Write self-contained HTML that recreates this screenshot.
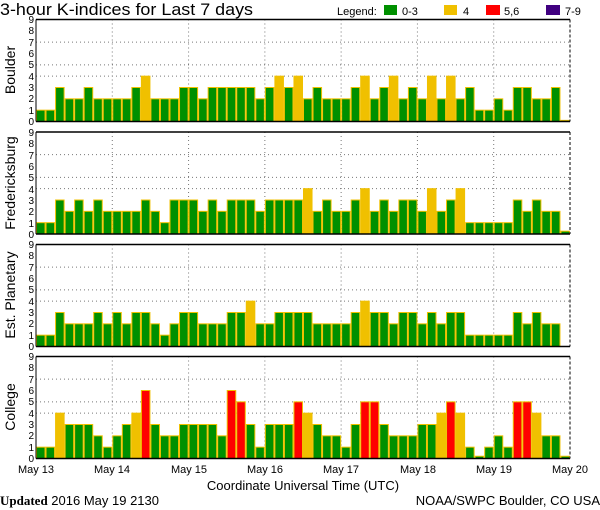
<!DOCTYPE html>
<html><head><meta charset="utf-8"><style>
body{margin:0;background:#fff;width:600px;height:510px;overflow:hidden}
svg{display:block}
text{font-family:"Liberation Sans",sans-serif;fill:#000}
.t{font-size:10px}
</style></head><body>
<svg id="s" width="600" height="510" xmlns="http://www.w3.org/2000/svg">
<text x="0" y="15" font-size="17" textLength="253" lengthAdjust="spacingAndGlyphs">3-hour K-indices for Last 7 days</text>
<text x="337" y="15" font-size="11">Legend:</text>
<rect x="384" y="5" width="13" height="10" fill="#009000"/>
<text x="402" y="15" font-size="11">0-3</text>
<rect x="444" y="5" width="13" height="10" fill="#f0c000"/>
<text x="463" y="15" font-size="11">4</text>
<rect x="486" y="5" width="14" height="10" fill="#ff0000"/>
<text x="504" y="15" font-size="11">5,6</text>
<rect x="546" y="5" width="14" height="10" fill="#400080"/>
<text x="565" y="15" font-size="11">7-9</text>
<g id="g"></g>
<text transform="translate(15,70) rotate(-90)" text-anchor="middle" font-size="14">Boulder</text>
<text transform="translate(15,183) rotate(-90)" text-anchor="middle" font-size="14">Fredericksburg</text>
<text transform="translate(15,295) rotate(-90)" text-anchor="middle" font-size="14">Est. Planetary</text>
<text transform="translate(15,407) rotate(-90)" text-anchor="middle" font-size="14">College</text>
<g class="t" text-anchor="end">
<text x="34" y="125">0</text><text x="34" y="114">1</text><text x="34" y="102">2</text><text x="34" y="91">3</text><text x="34" y="80">4</text><text x="34" y="68">5</text><text x="34" y="57">6</text><text x="34" y="46">7</text><text x="34" y="34">8</text><text x="34" y="23">9</text>
<text x="34" y="238">0</text><text x="34" y="227">1</text><text x="34" y="215">2</text><text x="34" y="204">3</text><text x="34" y="193">4</text><text x="34" y="181">5</text><text x="34" y="170">6</text><text x="34" y="159">7</text><text x="34" y="147">8</text><text x="34" y="136">9</text>
<text x="34" y="350">0</text><text x="34" y="339">1</text><text x="34" y="327">2</text><text x="34" y="316">3</text><text x="34" y="305">4</text><text x="34" y="293">5</text><text x="34" y="282">6</text><text x="34" y="271">7</text><text x="34" y="259">8</text><text x="34" y="248">9</text>
<text x="34" y="462">0</text><text x="34" y="451">1</text><text x="34" y="439">2</text><text x="34" y="428">3</text><text x="34" y="417">4</text><text x="34" y="405">5</text><text x="34" y="394">6</text><text x="34" y="383">7</text><text x="34" y="371">8</text><text x="34" y="360">9</text>
</g>
<g font-size="11" text-anchor="middle">
<text x="36" y="473">May 13</text><text x="112" y="473">May 14</text><text x="189" y="473">May 15</text><text x="265" y="473">May 16</text><text x="341" y="473">May 17</text><text x="418" y="473">May 18</text><text x="494" y="473">May 19</text><text x="570" y="473">May 20</text>
</g>
<text x="303" y="490" font-size="13" text-anchor="middle">Coordinate Universal Time (UTC)</text>
<text x="0" y="505" font-size="13"><tspan font-family="Liberation Serif" font-weight="bold">Updated</tspan> 2016 May 19 2130</text>
<text x="600" y="505" font-size="13" text-anchor="end">NOAA/SWPC Boulder, CO USA</text>
</svg>
<script>
var D=[
[1,1,3,2,2,3,2,2, 2,2,3,4,2,2,2,3, 3,2,3,3,3,3,3,2, 3,4,3,4,2,3,2,2, 2,3,4,2,3,4,2,3, 2,4,2,4,2,3,1,1, 2,1,3,3,2,2,3,0.1],
[1,1,3,2,3,2,3,2, 2,2,2,3,2,1,3,3, 3,2,3,2,3,3,3,2, 3,3,3,3,4,2,3,2, 2,3,4,2,3,2,3,3, 2,4,2,3,4,1,1,1, 1,1,3,2,3,2,2,0.25],
[1,1,3,2,2,2,3,2, 3,2,3,3,2,1,2,3, 3,2,2,2,3,3,4,2, 2,3,3,3,3,2,2,2, 2,3,4,3,3,2,3,3, 2,3,2,3,3,1,1,1, 1,1,3,2,3,2,2,0],
[1,1,4,3,3,3,2,1, 2,3,4,6,3,2,2,3, 3,3,3,2,6,5,3,1, 3,3,3,5,4,3,2,2, 1,3,5,5,3,2,2,2, 3,3,4,5,4,1,0.2,1, 2,1,5,5,4,2,2,0.2]];
var T=[19.5,132,244.5,356.5],H=102,u=H/9,X0=36,X1=570,bw=(X1-X0)/56;
var h='';
for(var p=0;p<4;p++){var t=T[p],b=t+H;
 [4,5,7].forEach(function(k){var y=b-k*u;h+='<line x1="'+X0+'" x2="'+X1+'" y1="'+y+'" y2="'+y+'" stroke="#777" stroke-dasharray="1,3"/>';});
 for(var d=1;d<7;d++){var x=X0+d*8*bw;h+='<line x1="'+x+'" x2="'+x+'" y1="'+t+'" y2="'+b+'" stroke="#777" stroke-dasharray="1,3"/>';}
 for(var i=0;i<56;i++){var v=D[p][i];if(v<=0)continue;var x=X0+i*bw,y=b-v*u;
  var c=v>=7?'#400080':v>=5?'#ff0000':v>=4?'#f0c000':'#009000';
  h+='<rect x="'+(x+0.5)+'" y="'+y+'" width="'+(bw-1)+'" height="'+(v*u)+'" fill="'+c+'" stroke="#f0c000" stroke-width="1"/>';}
 h+='<line x1="'+X0+'" x2="'+X1+'" y1="'+t+'" y2="'+t+'" stroke="#000" stroke-width="1.5"/>';
 h+='<line x1="'+X0+'" x2="'+X1+'" y1="'+b+'" y2="'+b+'" stroke="#000" stroke-width="1.5"/>';
 h+='<line x1="'+X0+'" x2="'+X0+'" y1="'+t+'" y2="'+b+'" stroke="#000" stroke-width="1"/>';
 h+='<line x1="'+X1+'" x2="'+X1+'" y1="'+t+'" y2="'+b+'" stroke="#000" stroke-dasharray="3,2"/>';
}
document.getElementById('g').innerHTML=h;
</script>
</body></html>
